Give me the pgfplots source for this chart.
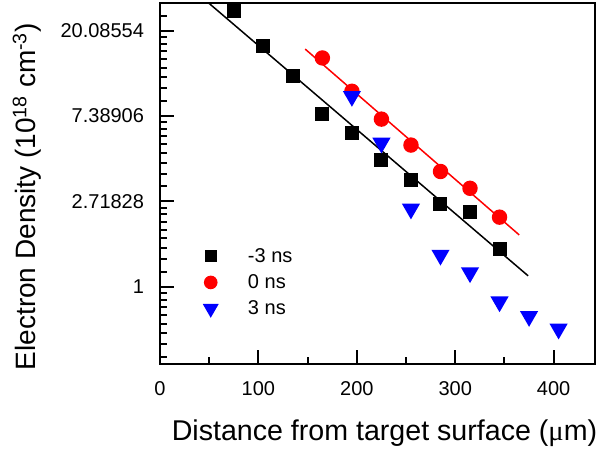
\documentclass[border=0pt]{standalone}
\usepackage{pgfplots}
\pgfplotsset{compat=1.18}
\usepackage{fontspec}
\setmainfont{Liberation Sans}
\newfontfamily\mufont{Liberation Serif}
\begin{document}
\begin{tikzpicture}
\useasboundingbox (-160pt,-85.7pt) rectangle (437pt,364.3pt);
\begin{axis}[
  scale only axis,
  width=435pt, height=361pt,
  anchor=south west, at={(0pt,0pt)},
  ymode=log,
  xmin=0, xmax=442,
  ymin=0.403, ymax=27.7,
  clip=false, axis on top=true,
  every axis/.append style={line width=2pt},
  axis line style={line width=2pt},
  tick style={black, line width=2pt},
  major tick length=14pt, minor tick length=7pt,
  xtick pos=left, ytick pos=left,
  xtick={0,100,200,300,400},
  minor xtick={50,150,250,350},
  ytick={1,2.71828,7.38906,20.08554},
  yticklabels={1,2.71828,7.38906,20.08554},
  minor ytick={0.4380,0.5087,0.5789,0.6491,0.7193,0.7895,0.8596,0.9298,
    1.1909,1.3818,1.5727,1.7636,1.9546,2.1455,2.3364,2.5273,
    3.2373,3.7563,4.2753,4.7943,5.3133,5.8323,6.3513,6.8703,
    8.8001,10.2111,11.6222,13.0333,14.4444,15.8555,17.2666,18.6777,
    23.917},
  /pgf/number format/assume math mode=true,
  ticklabel style={font=\fontsize{20}{24}\selectfont},
  xticklabel style={anchor=base, yshift=-31pt},
  yticklabel style={anchor=east, inner sep=0pt, xshift=-15pt},
  xlabel={Distance from target surface ({\mufont μ}m)},
  ylabel={Electron Density (10\textsuperscript{18} cm\textsuperscript{-3})},
  xlabel style={font=\fontsize{28.6}{32}\selectfont, at={(axis description cs:0.516,-0.2105)}, anchor=base},
  ylabel style={font=\fontsize{28}{32}\selectfont, at={(axis description cs:-0.2926,0.464)}, anchor=mid, rotate=0},
  legend style={draw=none, fill=none, font=\fontsize{20}{24}\selectfont,
    at={(axis description cs:0.10,0.329)}, anchor=north west,
    row sep=6.7pt, inner sep=0pt,
    /tikz/every odd column/.append style={column sep=29pt}},
  legend cell align=left,
  legend image code/.code={\draw[#1] plot coordinates {(10pt,0pt)};},
]
\addlegendimage{only marks, mark=square*, mark size=5pt, black}
\addlegendentry{-3 ns}
\addlegendimage{only marks, mark=*, mark size=5.8pt, red}
\addlegendentry{0 ns}
\addlegendimage{only marks, mark=triangle*, mark size=7.2pt, blue, mark options={rotate=180}}
\addlegendentry{3 ns}
\addplot[only marks, mark=square*, mark size=6pt, black, forget plot]
  coordinates {(75,25.3)(105,16.7)(135,11.87)(165,7.53)(195,6.05)(225,4.44)(255,3.51)(285,2.64)(315,2.40)(345,1.55)};
\addplot[only marks, mark=*, mark size=6.7pt, red, forget plot]
  coordinates {(165,14.6)(195,9.88)(225,7.13)(255,5.26)(285,3.86)(315,3.17)(345,2.26)};
\addplot[only marks, mark=triangle*, mark size=8.5pt, blue, mark options={rotate=180}, forget plot]
  coordinates {(195,9.32)(225,5.39)(255,2.49)(285,1.45)(315,1.18)(345,0.839)(375,0.707)(405,0.610)};
\addplot[black, line width=1.5pt, forget plot] coordinates {(49.8,27.7)(374,1.137)};
\addplot[red, line width=1.5pt, forget plot] coordinates {(147.5,16.2)(365,1.835)};
% tick marks (inside), as thin filled bars
\pgfplotsinvokeforeach{100,200,300,400}{\fill[black] (axis cs:#1,0.403) ++(-1pt,0pt) rectangle ++(2pt,14pt);}
\pgfplotsinvokeforeach{50,150,250,350}{\fill[black] (axis cs:#1,0.403) ++(-1pt,0pt) rectangle ++(2pt,7pt);}
\pgfplotsinvokeforeach{1,2.71828,7.38906,20.08554}{\fill[black] (axis cs:0,#1) ++(0pt,-1pt) rectangle ++(14pt,2pt);}
\pgfplotsinvokeforeach{0.4380,0.5087,0.5789,0.6491,0.7193,0.7895,0.8596,0.9298,
    1.1909,1.3818,1.5727,1.7636,1.9546,2.1455,2.3364,2.5273,
    3.2373,3.7563,4.2753,4.7943,5.3133,5.8323,6.3513,6.8703,
    8.8001,10.2111,11.6222,13.0333,14.4444,15.8555,17.2666,18.6777,
    23.917}{\fill[black] (axis cs:0,#1) ++(0pt,-1pt) rectangle ++(7pt,2pt);}
\end{axis}
\end{tikzpicture}
\end{document}
